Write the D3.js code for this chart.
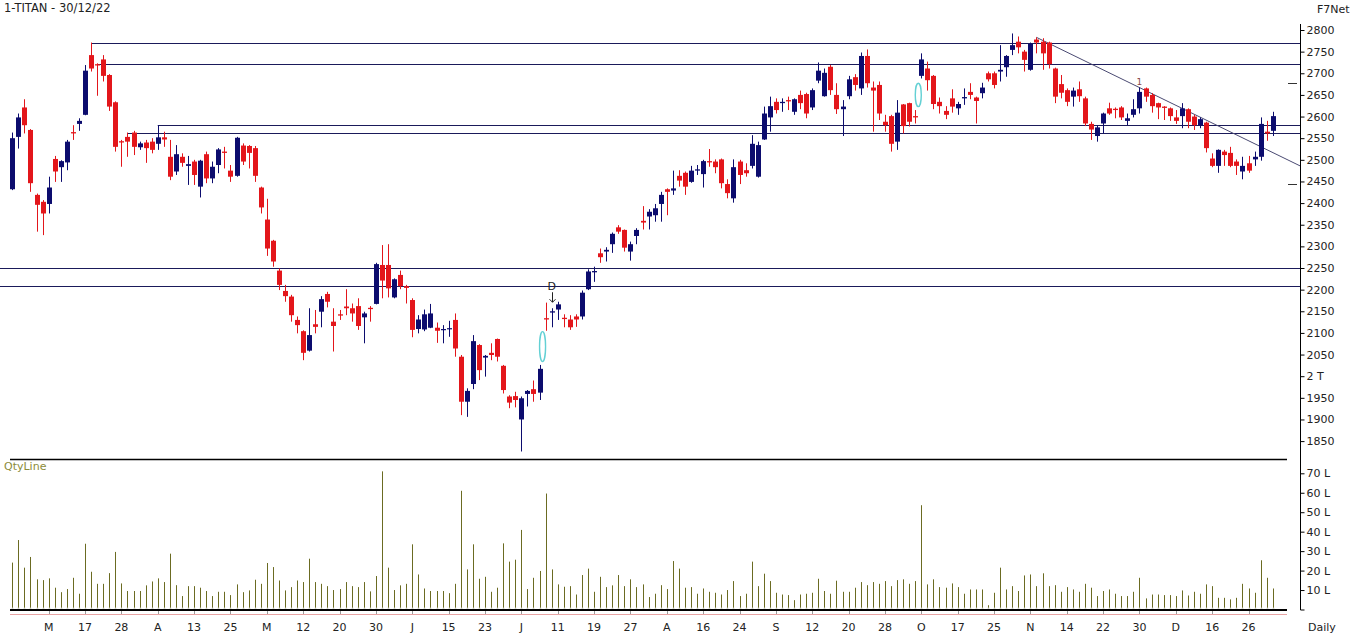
<!DOCTYPE html>
<html>
<head>
<meta charset="utf-8">
<script src="https://cdn.jsdelivr.net/npm/d3@7"></script>
<style>
body { margin: 0; background: #fff; }
text { font-family: "DejaVu Sans", Verdana, sans-serif; font-size: 11px; fill: #222; }
</style>
</head>
<body>
<div id="chart"></div>
<script>
// daily candles, 1-TITAN, Mar-Dec 2022
var opens = [2432,2553,2621,2569,2419,2403,2398,2502,2483,2494,2564,2583,2604,2742,2721,2732,2696,2633,2543,2553,
	2563,2529,2540,2542,2537,2552,2507,2473,2507,2486,2496,2438,2513,2457,2488,2519,2475,2463,2533,2532,
	2527,2436,2362,2313,2244,2197,2184,2130,2104,2059,2120,2149,2190,2126,2143,2161,2157,2162,2136,2158,
	2167,2257,2257,2182,2234,2208,2176,2109,2108,2112,2112,2107,2110,2130,2045,1941,1982,2072,2043,2054,
	2086,2024,1953,1954,1900,1959,1970,1962,2134,2147,2154,2135,2131,2138,2138,2201,2240,2284,2288,2305,
	2344,2338,2288,2324,2359,2369,2372,2398,2432,2429,2463,2470,2449,2475,2467,2497,2496,2501,2444,2411,
	2496,2476,2486,2461,2547,2598,2634,2631,2638,2611,2650,2652,2621,2683,2647,2715,2650,2617,2647,2691,
	2665,2740,2667,2673,2588,2601,2542,2628,2631,2601,2694,2711,2694,2634,2613,2642,2619,2642,2657,2644,
	2654,2700,2700,2704,2714,2754,2773,2750,2708,2778,2773,2771,2711,2675,2661,2646,2663,2642,2583,2555,
	2584,2619,2618,2621,2590,2604,2619,2665,2650,2631,2623,2619,2598,2601,2617,2600,2580,2586,2503,2486,
	2519,2516,2496,2473,2492,2501,2507,2565,2567];
var highs = [2563,2607,2640,2571,2422,2407,2461,2509,2499,2546,2580,2596,2719,2771,2723,2742,2698,2635,2546,2563,
	2567,2542,2546,2550,2580,2565,2546,2534,2515,2509,2500,2500,2519,2496,2527,2530,2488,2553,2538,2534,
	2532,2438,2410,2315,2249,2211,2188,2138,2106,2157,2153,2185,2195,2157,2153,2201,2168,2180,2149,2162,
	2262,2303,2305,2226,2244,2211,2180,2141,2154,2167,2124,2118,2128,2145,2049,1972,2095,2074,2049,2076,
	2087,2026,1956,1964,1953,1968,1990,2026,2170,2157,2172,2143,2141,2143,2198,2247,2253,2295,2298,2332,
	2349,2339,2311,2342,2393,2386,2398,2426,2434,2475,2476,2473,2486,2488,2500,2525,2501,2503,2455,2501,
	2500,2492,2557,2542,2623,2646,2642,2642,2646,2642,2660,2655,2665,2725,2711,2719,2677,2638,2694,2698,
	2748,2755,2681,2681,2604,2604,2638,2629,2632,2615,2746,2727,2696,2644,2624,2663,2634,2665,2677,2646,
	2678,2704,2704,2765,2742,2792,2785,2754,2771,2783,2781,2773,2713,2696,2665,2667,2681,2646,2588,2580,
	2609,2632,2621,2624,2607,2640,2667,2667,2654,2632,2624,2621,2615,2631,2619,2604,2598,2588,2515,2524,
	2523,2530,2501,2507,2509,2519,2598,2590,2611];
var lows = [2430,2526,2561,2426,2334,2326,2376,2449,2449,2476,2546,2567,2603,2704,2648,2681,2613,2519,2484,2507,
	2511,2523,2493,2515,2523,2530,2453,2465,2484,2442,2442,2413,2446,2446,2469,2480,2449,2461,2488,2480,
	2449,2376,2278,2253,2199,2172,2126,2099,2037,2057,2099,2113,2159,2057,2130,2141,2126,2107,2076,2126,
	2166,2180,2182,2180,2201,2168,2090,2099,2104,2111,2077,2076,2091,2045,1910,1906,1970,1991,1999,2037,
	2034,1960,1926,1928,1826,1930,1941,1945,2105,2113,2130,2113,2107,2114,2131,2199,2218,2262,2265,2285,
	2329,2288,2267,2305,2339,2339,2357,2357,2372,2419,2438,2419,2447,2465,2436,2484,2469,2434,2411,2401,
	2444,2461,2480,2459,2546,2565,2607,2611,2615,2604,2617,2596,2615,2677,2646,2650,2606,2555,2640,2660,
	2650,2667,2565,2592,2565,2519,2523,2561,2577,2584,2688,2660,2617,2607,2594,2609,2604,2627,2640,2584,
	2642,2681,2665,2681,2692,2742,2746,2704,2706,2746,2708,2711,2631,2642,2624,2623,2634,2578,2546,2542,
	2561,2604,2596,2592,2580,2598,2607,2634,2609,2594,2592,2590,2583,2573,2573,2569,2573,2517,2483,2470,
	2486,2483,2465,2455,2470,2486,2498,2544,2555];
var closes = [2550,2598,2580,2446,2396,2376,2436,2473,2497,2542,2561,2590,2706,2711,2718,2694,2623,2530,2540,2542,
	2530,2538,2527,2523,2552,2547,2461,2513,2493,2490,2465,2498,2457,2484,2524,2516,2461,2551,2496,2516,
	2463,2390,2295,2265,2211,2185,2141,2118,2054,2095,2114,2178,2172,2116,2140,2157,2145,2116,2145,2155,
	2259,2221,2203,2224,2208,2204,2107,2131,2143,2145,2105,2109,2111,2064,1941,1966,2081,2014,2047,2049,
	2045,1968,1939,1945,1949,1966,1959,2017,2131,2150,2166,2132,2113,2131,2193,2242,2243,2275,2292,2329,
	2334,2297,2305,2338,2355,2380,2388,2419,2426,2434,2452,2438,2475,2478,2497,2494,2483,2446,2423,2483,
	2465,2469,2537,2534,2607,2624,2615,2634,2635,2640,2631,2607,2661,2706,2701,2661,2617,2623,2686,2673,
	2740,2677,2660,2607,2580,2537,2609,2578,2588,2598,2732,2684,2629,2624,2604,2623,2629,2645,2650,2636,
	2667,2686,2673,2708,2740,2765,2760,2731,2768,2771,2746,2721,2646,2655,2634,2660,2647,2584,2570,2575,
	2607,2607,2615,2598,2596,2617,2657,2646,2624,2621,2620,2601,2590,2619,2588,2580,2594,2527,2486,2523,
	2511,2486,2486,2486,2475,2507,2583,2561,2601];
// traded quantity, in lakh
var volumes = [24.1,35.7,21.5,27.0,15.5,15.1,16.0,11.2,8.9,10.5,16.3,8.1,33.8,19.4,13.2,13.2,18.7,29.6,13.4,9.5,
	9.5,9.5,12.4,14.4,16.0,14.1,28.7,12.5,6.9,12.0,12.0,11.2,9.5,6.9,9.1,9.1,7.4,12.9,8.9,9.8,
	15.3,13.2,23.9,21.8,14.9,9.8,11.5,14.9,14.1,26.1,14.1,13.2,12.0,10.0,10.5,14.1,12.0,11.5,14.1,9.3,
	17.2,71.0,21.5,10.0,12.4,13.2,33.5,18.0,10.8,9.5,9.5,9.5,8.4,13.2,61.0,20.6,33.5,15.8,16.8,9.1,
	11.2,34.0,24.6,25.6,40.9,10.5,16.3,19.8,59.6,20.6,12.9,11.7,12.0,7.7,17.7,21.0,9.1,16.8,11.5,12.4,
	17.7,12.0,15.5,11.5,12.9,6.4,8.1,12.5,10.5,24.9,21.0,11.2,11.5,8.1,10.8,9.1,8.6,7.7,10.0,14.6,
	6.9,8.1,24.6,12.0,18.4,14.6,8.6,7.7,7.4,4.8,7.7,8.1,8.6,15.8,9.5,8.1,14.8,9.1,9.1,11.2,
	14.1,12.5,14.1,13.2,14.6,12.0,15.1,15.5,13.2,14.6,53.6,12.9,15.5,11.5,11.2,13.4,11.5,8.1,10.3,10.3,
	10.3,2.2,8.6,21.5,10.3,12.0,9.5,17.5,18.0,12.0,18.6,12.0,12.5,9.1,11.5,10.3,9.1,13.2,11.2,6.9,
	9.5,10.3,8.1,6.9,6.9,9.1,16.3,5.7,7.7,7.7,7.4,7.4,6.9,9.8,7.2,9.1,8.1,12.9,12.0,6.0,
	6.0,5.2,6.0,13.2,10.8,8.6,25.3,16.3,10.8];

var dateLabels = ["M","17","28","A","13","25","M","12","20","30","J","15","23","J","11","19","27",
	"A","16","24","S","12","20","28","O","17","25","N","14","22","30","D","16","26"];
var dateLabelBars = d3.range(6, 209, 6);
var priceTicks = d3.range(1850, 2801, 50);
var qtyTicks = [0, 10, 20, 30, 40, 50, 60, 70];

// drawn levels (price, first bar; null = from the left edge)
var levelPrices = [2771, 2721, 2580, 2561, 2251, 2208];
var levelFrom = [13, 14, 24, 19, null, null];
var trendBars = [169, 212.5];
var trendPrices = [2783, 2486];
// gap ovals: bar position, low, high
var ovalBars = [87.5, 149.5];
var ovalLow = [2034, 2623];
var ovalHigh = [2103, 2677];

var W = 1352, H = 635;
var axisX = 1300;
var plotRight = 1287;

var svg = d3.select("#chart").append("svg")
	.attr("width", W)
	.attr("height", H);

var x = d3.scaleLinear().domain([0, 208]).range([12.3, 1272.8]);
var y = d3.scaleLinear().domain([1850, 2800]).range([441.1, 30]);
var yq = d3.scaleLinear().domain([0, 70]).range([609.5, 473.3]);

function px(i) { return Math.round(x(i)) + 0.5; }

var red = "#e3161b", blue = "#0c0c6e";

// horizontal levels
svg.append("g")
	.selectAll("line")
	.data(levelPrices)
	.enter().append("line")
	.attr("x1", function(d, k) { return levelFrom[k] == null ? 0 : x(levelFrom[k]); })
	.attr("x2", axisX)
	.attr("y1", function(d) { return Math.round(y(d)) + 0.5; })
	.attr("y2", function(d) { return Math.round(y(d)) + 0.5; })
	.attr("stroke", "#1a1a5a")
	.attr("stroke-width", 1.2);

// trend line
svg.append("line")
	.attr("x1", x(trendBars[0])).attr("y1", y(trendPrices[0]))
	.attr("x2", x(trendBars[1])).attr("y2", y(trendPrices[1]))
	.attr("stroke", "#4a4a72")
	.attr("stroke-width", 1);

// candles
var bars = d3.range(opens.length);
var candles = svg.append("g").selectAll("g")
	.data(bars)
	.enter().append("g")
	.attr("fill", function(i) { return closes[i] >= opens[i] ? blue : red; })
	.attr("stroke", function(i) { return closes[i] >= opens[i] ? blue : red; });

candles.append("line")
	.attr("x1", px).attr("x2", px)
	.attr("y1", function(i) { return y(highs[i]); })
	.attr("y2", function(i) { return y(lows[i]); })
	.attr("stroke-width", 1);

candles.append("rect")
	.attr("x", function(i) { return Math.round(x(i)) - 2; })
	.attr("width", 5)
	.attr("y", function(i) { return y(Math.max(opens[i], closes[i])); })
	.attr("height", function(i) { return Math.max(1.2, Math.abs(y(opens[i]) - y(closes[i]))); })
	.attr("stroke", "none");

// gap ovals
svg.append("g")
	.selectAll("ellipse")
	.data(ovalBars)
	.enter().append("ellipse")
	.attr("cx", function(d) { return x(d); })
	.attr("cy", function(d, k) { return (y(ovalLow[k]) + y(ovalHigh[k])) / 2; })
	.attr("rx", 3)
	.attr("ry", function(d, k) { return (y(ovalLow[k]) - y(ovalHigh[k])) / 2; })
	.attr("fill", "none")
	.attr("stroke", "#63d0d4")
	.attr("stroke-width", 1.4);

// "D" marker with arrow
var dBar = 89;
svg.append("text")
	.attr("x", x(dBar)).attr("y", y(highs[dBar]) - 18)
	.attr("text-anchor", "middle")
	.text("D");
svg.append("line")
	.attr("x1", px(dBar)).attr("x2", px(dBar))
	.attr("y1", y(highs[dBar]) - 16).attr("y2", y(highs[dBar]) - 6)
	.attr("stroke", "#222");
svg.append("path")
	.attr("d", "M" + (px(dBar) - 3) + "," + (y(highs[dBar]) - 9) + "L" + px(dBar) + "," + (y(highs[dBar]) - 6) + "L" + (px(dBar) + 3) + "," + (y(highs[dBar]) - 9))
	.attr("fill", "none")
	.attr("stroke", "#222");

// "1" marker
var oneBar = 186;
svg.append("text")
	.attr("x", x(oneBar)).attr("y", y(highs[oneBar]) - 3)
	.attr("text-anchor", "middle")
	.style("font-size", "9px")
	.style("fill", "#8a4a4a")
	.text("1");

// volume bars
var vol = svg.append("g");
vol.selectAll("line")
	.data(bars)
	.enter().append("line")
	.attr("x1", px).attr("x2", px)
	.attr("y1", yq(0))
	.attr("y2", function(i) { return yq(volumes[i]); })
	.attr("stroke", "#6b6b22")
	.attr("stroke-width", 1);
vol.selectAll("circle")
	.data(bars)
	.enter().append("circle")
	.attr("cx", px)
	.attr("cy", yq(0) - 1)
	.attr("r", 0.9)
	.attr("fill", "#cfcfc4");

// panel frame lines
svg.append("line")
	.attr("x1", 10).attr("x2", plotRight)
	.attr("y1", 459.5).attr("y2", 459.5)
	.attr("stroke", "#000").attr("stroke-width", 1.5);
svg.append("line")
	.attr("x1", 10).attr("x2", plotRight)
	.attr("y1", 610).attr("y2", 610)
	.attr("stroke", "#000").attr("stroke-width", 2);
svg.append("line")
	.attr("x1", 10).attr("x2", plotRight)
	.attr("y1", 614.5).attr("y2", 614.5)
	.attr("stroke", "#e8a4a4").attr("stroke-width", 1);

// right axes
svg.append("line")
	.attr("x1", axisX + 0.5).attr("x2", axisX + 0.5)
	.attr("y1", 24).attr("y2", 610)
	.attr("stroke", "#000");

var priceAxis = svg.append("g")
	.attr("transform", "translate(" + (axisX + 0.5) + ",0)")
	.call(d3.axisRight(y).tickValues(priceTicks).tickSize(4).tickPadding(2)
		.tickFormat(function(d) { return d == 2000 ? "2 T" : d; }));
priceAxis.select(".domain").remove();

var qtyAxis = svg.append("g")
	.attr("transform", "translate(" + (axisX + 0.5) + ",0)")
	.call(d3.axisRight(yq).tickValues(qtyTicks).tickSize(4).tickPadding(2)
		.tickFormat(function(d) { return d ? d + " L" : ""; }));
qtyAxis.select(".domain").remove();

svg.selectAll(".tick text")
	.style("font-family", "'DejaVu Sans', Verdana, sans-serif")
	.style("font-size", "11px")
	.attr("fill", "#222");

// small markers left of the price axis
svg.append("g")
	.selectAll("line")
	.data([2677, 2444])
	.enter().append("line")
	.attr("x1", 1288).attr("x2", 1297)
	.attr("y1", function(d) { return Math.round(y(d)) + 0.5; })
	.attr("y2", function(d) { return Math.round(y(d)) + 0.5; })
	.attr("stroke", "#333");

// date labels
var dates = svg.append("g");
dates.selectAll("line")
	.data(dateLabelBars)
	.enter().append("line")
	.attr("x1", px).attr("x2", px)
	.attr("y1", 611).attr("y2", 614)
	.attr("stroke", "#999");
dates.selectAll("text")
	.data(dateLabelBars)
	.enter().append("text")
	.attr("x", function(i) { return x(i); })
	.attr("y", 631)
	.attr("text-anchor", "middle")
	.text(function(i, k) { return dateLabels[k]; });

// titles
svg.append("text").attr("x", 4).attr("y", 12).style("font-size", "11.5px").text("1-TITAN - 30/12/22");
svg.append("text").attr("x", 1317).attr("y", 13).text("F7Net");
svg.append("text").attr("x", 4).attr("y", 470).style("fill", "#8c8c3a").text("QtyLine");
svg.append("text").attr("x", 1308).attr("y", 631).text("Daily");
</script>
</body>
</html>
